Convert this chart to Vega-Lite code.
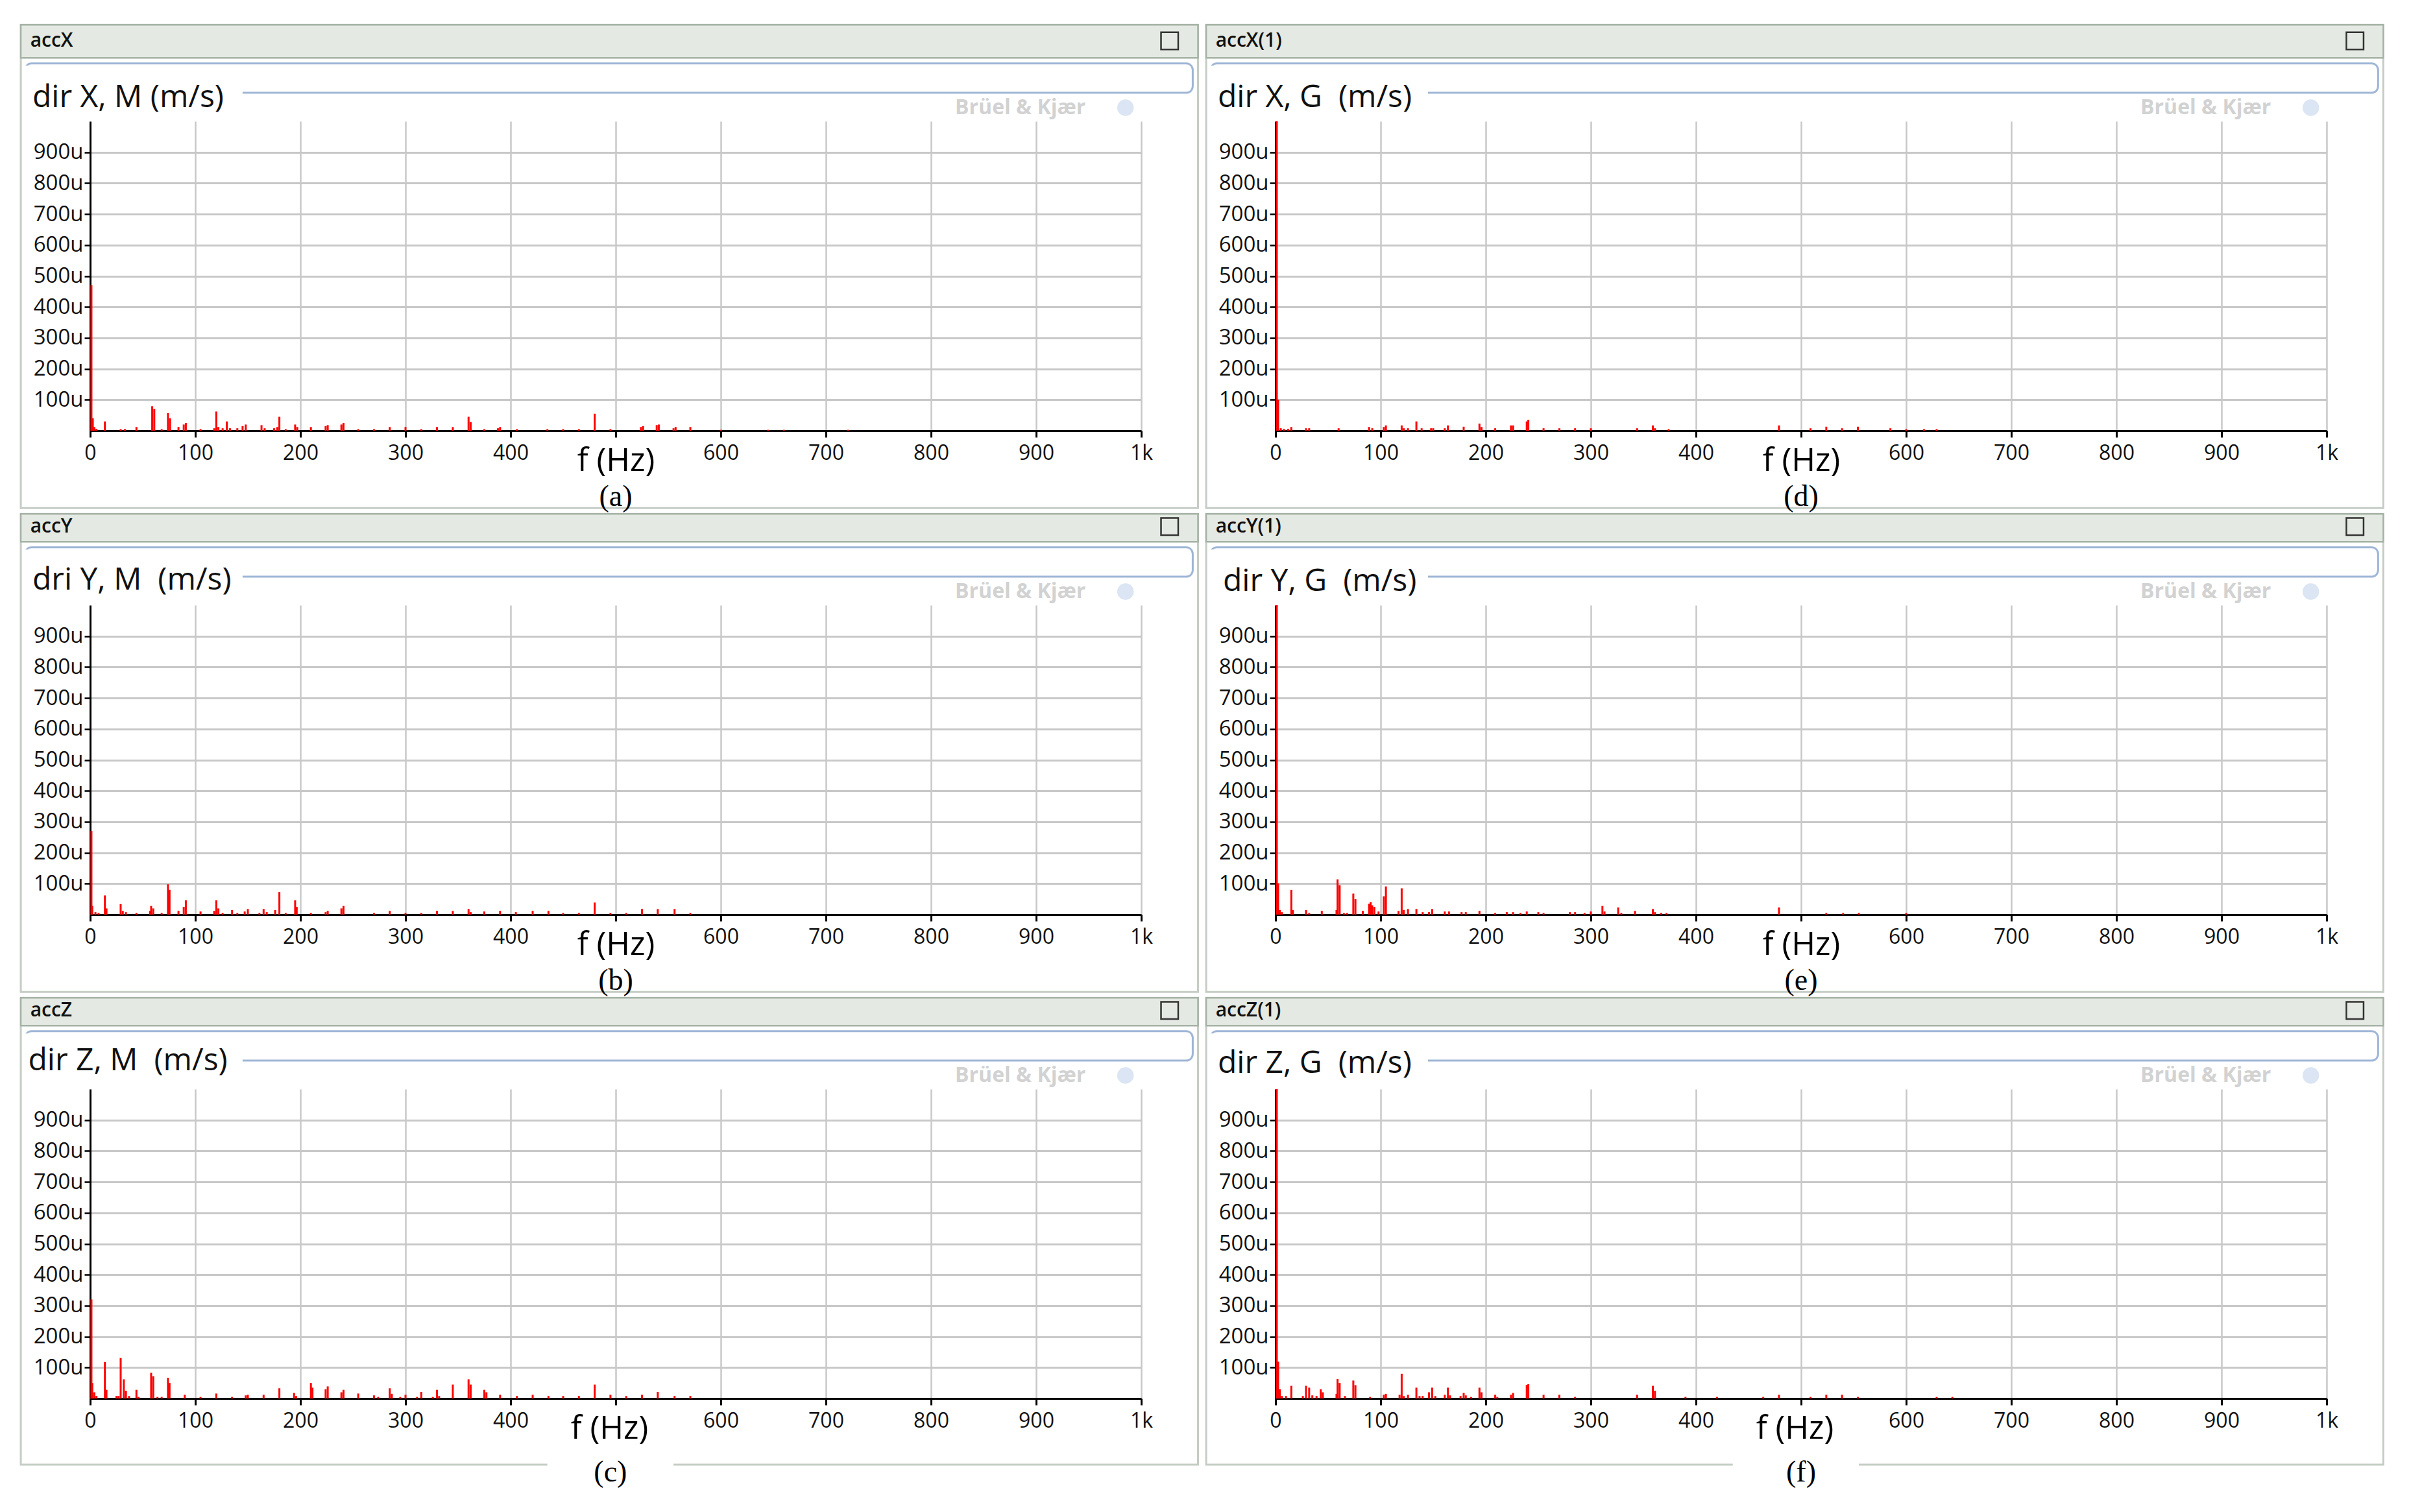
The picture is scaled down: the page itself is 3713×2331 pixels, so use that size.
{
  "$schema": "https://vega.github.io/schema/vega-lite/v6.json",
  "background": "white",
  "padding": {"left": 30, "top": 36, "right": 20, "bottom": 20},
  "config": {"view": {"stroke": null}, "font": "Open Sans"},
  "data": {"values": [
    {"p":"a","h":"accX","t":"dir X, M (m/s)","c":"(a)"},
    {"p":"b","h":"accY","t":"dri Y, M \u00a0(m/s)","c":"(b)"},
    {"p":"c","h":"accZ","t":"dir Z, M \u00a0(m/s)","c":"(c)"},
    {"p":"d","h":"accX(1)","t":"dir X, G \u00a0(m/s)","c":"(d)"},
    {"p":"e","h":"accY(1)","t":"dir Y, G \u00a0(m/s)","c":"(e)"},
    {"p":"f","h":"accZ(1)","t":"dir Z, G \u00a0(m/s)","c":"(f)"},

    {"p":"a","f":1.2,"a":470},{"p":"a","f":2.5,"a":40},{"p":"a","f":4,"a":12},{"p":"a","f":6,"a":6},{"p":"a","f":14,"a":30},{"p":"a","f":29,"a":5},{"p":"a","f":33,"a":5},{"p":"a","f":44,"a":12},{"p":"a","f":59,"a":79},{"p":"a","f":61,"a":70},{"p":"a","f":68,"a":5},{"p":"a","f":74,"a":57},{"p":"a","f":76,"a":40},{"p":"a","f":84,"a":12},{"p":"a","f":89,"a":20},{"p":"a","f":91,"a":25},{"p":"a","f":105,"a":5},{"p":"a","f":118,"a":8},{"p":"a","f":120,"a":62},{"p":"a","f":122,"a":12},{"p":"a","f":126,"a":8},{"p":"a","f":130,"a":30},{"p":"a","f":133,"a":8},{"p":"a","f":140,"a":8},{"p":"a","f":145,"a":15},{"p":"a","f":148,"a":20},{"p":"a","f":163,"a":18},{"p":"a","f":166,"a":8},{"p":"a","f":175,"a":8},{"p":"a","f":178,"a":12},{"p":"a","f":180,"a":45},{"p":"a","f":186,"a":5},{"p":"a","f":195,"a":20},{"p":"a","f":197,"a":12},{"p":"a","f":210,"a":12},{"p":"a","f":224,"a":15},{"p":"a","f":226,"a":18},{"p":"a","f":239,"a":20},{"p":"a","f":241,"a":25},{"p":"a","f":255,"a":5},{"p":"a","f":270,"a":5},{"p":"a","f":285,"a":12},{"p":"a","f":300,"a":12},{"p":"a","f":315,"a":5},{"p":"a","f":330,"a":12},{"p":"a","f":345,"a":12},{"p":"a","f":360,"a":45},{"p":"a","f":362,"a":28},{"p":"a","f":375,"a":5},{"p":"a","f":388,"a":8},{"p":"a","f":390,"a":12},{"p":"a","f":406,"a":5},{"p":"a","f":435,"a":5},{"p":"a","f":450,"a":5},{"p":"a","f":465,"a":5},{"p":"a","f":480,"a":55},{"p":"a","f":495,"a":5},{"p":"a","f":524,"a":12},{"p":"a","f":526,"a":15},{"p":"a","f":539,"a":18},{"p":"a","f":541,"a":20},{"p":"a","f":555,"a":8},{"p":"a","f":557,"a":12},{"p":"a","f":571,"a":12},{"p":"a","f":600,"a":3},{"p":"a","f":645,"a":3},{"p":"a","f":660,"a":3},{"p":"a","f":721,"a":3},

    {"p":"b","f":1.2,"a":270},{"p":"b","f":2,"a":28},{"p":"b","f":5,"a":8},{"p":"b","f":8,"a":5},{"p":"b","f":14,"a":62},{"p":"b","f":15.5,"a":20},{"p":"b","f":29,"a":34},{"p":"b","f":31,"a":12},{"p":"b","f":34,"a":8},{"p":"b","f":44,"a":5},{"p":"b","f":57,"a":12},{"p":"b","f":58,"a":28},{"p":"b","f":60,"a":20},{"p":"b","f":68,"a":5},{"p":"b","f":74,"a":98},{"p":"b","f":75.5,"a":80},{"p":"b","f":84,"a":12},{"p":"b","f":89,"a":25},{"p":"b","f":91,"a":46},{"p":"b","f":105,"a":10},{"p":"b","f":118,"a":12},{"p":"b","f":120,"a":46},{"p":"b","f":122,"a":20},{"p":"b","f":126,"a":5},{"p":"b","f":135,"a":15},{"p":"b","f":140,"a":5},{"p":"b","f":147,"a":10},{"p":"b","f":150,"a":18},{"p":"b","f":161,"a":5},{"p":"b","f":165,"a":18},{"p":"b","f":168,"a":8},{"p":"b","f":176,"a":15},{"p":"b","f":180,"a":73},{"p":"b","f":186,"a":5},{"p":"b","f":195,"a":46},{"p":"b","f":196.5,"a":25},{"p":"b","f":210,"a":5},{"p":"b","f":224,"a":8},{"p":"b","f":226,"a":12},{"p":"b","f":239,"a":20},{"p":"b","f":241,"a":28},{"p":"b","f":270,"a":5},{"p":"b","f":285,"a":12},{"p":"b","f":300,"a":5},{"p":"b","f":315,"a":5},{"p":"b","f":330,"a":12},{"p":"b","f":345,"a":12},{"p":"b","f":360,"a":18},{"p":"b","f":362,"a":8},{"p":"b","f":375,"a":10},{"p":"b","f":390,"a":12},{"p":"b","f":405,"a":8},{"p":"b","f":421,"a":12},{"p":"b","f":436,"a":12},{"p":"b","f":450,"a":5},{"p":"b","f":465,"a":5},{"p":"b","f":480,"a":39},{"p":"b","f":495,"a":5},{"p":"b","f":510,"a":5},{"p":"b","f":525,"a":18},{"p":"b","f":540,"a":18},{"p":"b","f":556,"a":18},{"p":"b","f":571,"a":5},

    {"p":"c","f":1.2,"a":320},{"p":"c","f":2,"a":50},{"p":"c","f":4,"a":20},{"p":"c","f":6,"a":8},{"p":"c","f":14,"a":118},{"p":"c","f":15.5,"a":28},{"p":"c","f":25,"a":8},{"p":"c","f":27,"a":8},{"p":"c","f":29,"a":131},{"p":"c","f":32,"a":62},{"p":"c","f":34,"a":25},{"p":"c","f":37,"a":8},{"p":"c","f":44,"a":28},{"p":"c","f":46,"a":5},{"p":"c","f":58,"a":83},{"p":"c","f":60,"a":72},{"p":"c","f":64,"a":5},{"p":"c","f":68,"a":5},{"p":"c","f":74,"a":67},{"p":"c","f":75.5,"a":50},{"p":"c","f":90,"a":12},{"p":"c","f":105,"a":5},{"p":"c","f":120,"a":16},{"p":"c","f":135,"a":5},{"p":"c","f":148,"a":10},{"p":"c","f":150,"a":12},{"p":"c","f":165,"a":12},{"p":"c","f":180,"a":33},{"p":"c","f":194,"a":18},{"p":"c","f":196,"a":8},{"p":"c","f":210,"a":50},{"p":"c","f":211.5,"a":35},{"p":"c","f":224,"a":30},{"p":"c","f":226,"a":39},{"p":"c","f":239,"a":20},{"p":"c","f":241,"a":28},{"p":"c","f":255,"a":16},{"p":"c","f":270,"a":10},{"p":"c","f":274,"a":5},{"p":"c","f":285,"a":33},{"p":"c","f":287,"a":15},{"p":"c","f":295,"a":5},{"p":"c","f":300,"a":12},{"p":"c","f":311,"a":5},{"p":"c","f":315,"a":21},{"p":"c","f":326,"a":5},{"p":"c","f":330,"a":28},{"p":"c","f":332,"a":8},{"p":"c","f":345,"a":45},{"p":"c","f":360,"a":62},{"p":"c","f":362,"a":45},{"p":"c","f":375,"a":28},{"p":"c","f":377,"a":20},{"p":"c","f":390,"a":12},{"p":"c","f":406,"a":8},{"p":"c","f":421,"a":12},{"p":"c","f":436,"a":8},{"p":"c","f":450,"a":8},{"p":"c","f":465,"a":8},{"p":"c","f":480,"a":45},{"p":"c","f":495,"a":12},{"p":"c","f":510,"a":8},{"p":"c","f":525,"a":12},{"p":"c","f":540,"a":21},{"p":"c","f":556,"a":8},{"p":"c","f":571,"a":8},

    {"p":"d","f":1.2,"a":1000},{"p":"d","f":2.5,"a":100},{"p":"d","f":5,"a":8},{"p":"d","f":8,"a":6},{"p":"d","f":12,"a":6},{"p":"d","f":15,"a":12},{"p":"d","f":29,"a":8},{"p":"d","f":32,"a":8},{"p":"d","f":60,"a":8},{"p":"d","f":89,"a":12},{"p":"d","f":92,"a":8},{"p":"d","f":103,"a":12},{"p":"d","f":105,"a":17},{"p":"d","f":120,"a":17},{"p":"d","f":122,"a":8},{"p":"d","f":126,"a":8},{"p":"d","f":134,"a":30},{"p":"d","f":139,"a":8},{"p":"d","f":148,"a":8},{"p":"d","f":150,"a":8},{"p":"d","f":161,"a":8},{"p":"d","f":164,"a":17},{"p":"d","f":179,"a":13},{"p":"d","f":194,"a":23},{"p":"d","f":196,"a":12},{"p":"d","f":209,"a":8},{"p":"d","f":224,"a":17},{"p":"d","f":226,"a":17},{"p":"d","f":239,"a":30},{"p":"d","f":240.5,"a":35},{"p":"d","f":255,"a":8},{"p":"d","f":270,"a":8},{"p":"d","f":285,"a":8},{"p":"d","f":300,"a":8},{"p":"d","f":344,"a":8},{"p":"d","f":359,"a":17},{"p":"d","f":361,"a":8},{"p":"d","f":374,"a":5},{"p":"d","f":479,"a":17},{"p":"d","f":509,"a":8},{"p":"d","f":524,"a":13},{"p":"d","f":539,"a":8},{"p":"d","f":554,"a":13},{"p":"d","f":585,"a":8},{"p":"d","f":600,"a":5},{"p":"d","f":617,"a":5},{"p":"d","f":629,"a":5},

    {"p":"e","f":1.2,"a":1000},{"p":"e","f":2.5,"a":101},{"p":"e","f":4,"a":15},{"p":"e","f":6,"a":8},{"p":"e","f":15,"a":80},{"p":"e","f":16.5,"a":15},{"p":"e","f":29,"a":15},{"p":"e","f":32,"a":5},{"p":"e","f":44,"a":12},{"p":"e","f":58,"a":15},{"p":"e","f":59,"a":114},{"p":"e","f":61,"a":95},{"p":"e","f":65,"a":5},{"p":"e","f":68,"a":5},{"p":"e","f":74,"a":68},{"p":"e","f":76,"a":50},{"p":"e","f":83,"a":12},{"p":"e","f":89,"a":35},{"p":"e","f":90.5,"a":40},{"p":"e","f":92,"a":30},{"p":"e","f":94,"a":25},{"p":"e","f":98,"a":10},{"p":"e","f":103,"a":59},{"p":"e","f":105,"a":91},{"p":"e","f":117,"a":12},{"p":"e","f":120,"a":85},{"p":"e","f":122,"a":15},{"p":"e","f":126,"a":18},{"p":"e","f":134,"a":18},{"p":"e","f":140,"a":8},{"p":"e","f":146,"a":8},{"p":"e","f":149,"a":18},{"p":"e","f":161,"a":10},{"p":"e","f":165,"a":10},{"p":"e","f":177,"a":8},{"p":"e","f":181,"a":8},{"p":"e","f":194,"a":12},{"p":"e","f":209,"a":5},{"p":"e","f":220,"a":8},{"p":"e","f":226,"a":8},{"p":"e","f":233,"a":5},{"p":"e","f":239,"a":10},{"p":"e","f":250,"a":8},{"p":"e","f":255,"a":5},{"p":"e","f":280,"a":8},{"p":"e","f":285,"a":8},{"p":"e","f":294,"a":5},{"p":"e","f":300,"a":10},{"p":"e","f":311,"a":28},{"p":"e","f":313,"a":10},{"p":"e","f":326,"a":23},{"p":"e","f":329,"a":5},{"p":"e","f":342,"a":12},{"p":"e","f":359,"a":18},{"p":"e","f":361,"a":8},{"p":"e","f":367,"a":5},{"p":"e","f":372,"a":5},{"p":"e","f":479,"a":23},{"p":"e","f":524,"a":5},{"p":"e","f":540,"a":5},{"p":"e","f":555,"a":5},{"p":"e","f":600,"a":5},

    {"p":"f","f":1.2,"a":1000},{"p":"f","f":2.5,"a":119},{"p":"f","f":4,"a":30},{"p":"f","f":6,"a":8},{"p":"f","f":10,"a":8},{"p":"f","f":15,"a":41},{"p":"f","f":26,"a":8},{"p":"f","f":29,"a":41},{"p":"f","f":32,"a":35},{"p":"f","f":35,"a":10},{"p":"f","f":39,"a":8},{"p":"f","f":43,"a":30},{"p":"f","f":45,"a":20},{"p":"f","f":58,"a":15},{"p":"f","f":59,"a":63},{"p":"f","f":61,"a":50},{"p":"f","f":66,"a":8},{"p":"f","f":74,"a":58},{"p":"f","f":76,"a":43},{"p":"f","f":90,"a":5},{"p":"f","f":103,"a":12},{"p":"f","f":105,"a":15},{"p":"f","f":118,"a":12},{"p":"f","f":120,"a":80},{"p":"f","f":122,"a":8},{"p":"f","f":126,"a":12},{"p":"f","f":134,"a":35},{"p":"f","f":137,"a":8},{"p":"f","f":140,"a":8},{"p":"f","f":146,"a":20},{"p":"f","f":149,"a":35},{"p":"f","f":152,"a":8},{"p":"f","f":161,"a":12},{"p":"f","f":164,"a":35},{"p":"f","f":166,"a":10},{"p":"f","f":176,"a":8},{"p":"f","f":179,"a":18},{"p":"f","f":181,"a":10},{"p":"f","f":186,"a":5},{"p":"f","f":194,"a":35},{"p":"f","f":196,"a":20},{"p":"f","f":209,"a":12},{"p":"f","f":211,"a":5},{"p":"f","f":224,"a":12},{"p":"f","f":226,"a":18},{"p":"f","f":239,"a":44},{"p":"f","f":240.5,"a":46},{"p":"f","f":255,"a":12},{"p":"f","f":270,"a":12},{"p":"f","f":285,"a":5},{"p":"f","f":344,"a":12},{"p":"f","f":359,"a":41},{"p":"f","f":361,"a":25},{"p":"f","f":390,"a":5},{"p":"f","f":420,"a":5},{"p":"f","f":464,"a":5},{"p":"f","f":479,"a":12},{"p":"f","f":509,"a":5},{"p":"f","f":524,"a":12},{"p":"f","f":539,"a":12},{"p":"f","f":554,"a":5},{"p":"f","f":629,"a":5},{"p":"f","f":644,"a":5}
  ]},
  "columns": 2,
  "spacing": {"row": 269, "column": 207},
  "bounds": "flush",
  "concat": [
    {"transform": [{"filter": "datum.p == 'a'"}], "width": 1620, "height": 477, "layer": [
      {"transform": [{"filter": "isValid(datum.f)"}], "mark": {"type": "rule", "color": "#ff0000", "strokeWidth": 3, "clip": true}, "encoding": {
        "x": {"field": "f", "type": "quantitative", "scale": {"domain": [0, 1000], "nice": false, "zero": false}, "axis": {"values": [0,100,200,300,400,500,600,700,800,900,1000], "labelExpr": "datum.value == 1000 ? '1k' : (datum.value == 500 ? '' : '' + datum.value)", "title": "f (Hz)", "titleFont": "Open Sans", "titleFontSize": 50, "titleFontWeight": "normal", "titleColor": "#000000", "titleX": 810, "titleY": 46, "titleAlign": "center", "titleBaseline": "middle", "grid": true, "gridColor": "#c8c8c8", "gridWidth": 2.5, "domainColor": "#000000", "domainWidth": 3, "tickColor": "#000000", "tickWidth": 3, "tickSize": 10, "labelFont": "Open Sans", "labelFontSize": 32, "labelColor": "#111111", "labelPadding": 9, "labelFlush": false, "labelOverlap": false}},
        "y": {"field": "a", "type": "quantitative", "scale": {"domain": [0, 1000], "nice": false}, "axis": {"values": [100,200,300,400,500,600,700,800,900], "labelExpr": "datum.value + 'u'", "title": null, "grid": true, "gridColor": "#c8c8c8", "gridWidth": 3, "domainColor": "#000000", "domainWidth": 3, "tickColor": "#000000", "tickWidth": 2.5, "tickSize": 9, "labelFont": "Open Sans", "labelFontSize": 33, "labelColor": "#111111", "labelPadding": 2}},
        "y2": {"datum": 0}}},
      {"transform": [{"filter": "isValid(datum.h)"}], "mark": {"type": "rect", "fillOpacity": 0, "stroke": "#c5cdc5", "strokeWidth": 3}, "encoding": {"x": {"datum": -66, "type": "quantitative"}, "x2": {"datum": 1054}, "y": {"datum": 1312, "type": "quantitative"}, "y2": {"datum": -250}}},
      {"transform": [{"filter": "isValid(datum.h)"}], "mark": {"type": "rect", "fill": "#e4e9e3", "stroke": "#a6b3a6", "strokeWidth": 2.5}, "encoding": {"x": {"datum": -66, "type": "quantitative"}, "x2": {"datum": 1054}, "y": {"datum": 1312, "type": "quantitative"}, "y2": {"datum": 1205}}},
      {"transform": [{"filter": "isValid(datum.h)"}], "mark": {"type": "text", "align": "left", "baseline": "middle", "fontSize": 30, "fontWeight": 600, "color": "#111111"}, "encoding": {"x": {"datum": -57, "type": "quantitative"}, "y": {"datum": 1260, "type": "quantitative"}, "text": {"field": "h"}}},
      {"transform": [{"filter": "isValid(datum.h)"}], "mark": {"type": "point", "shape": "square", "filled": false, "color": "#333333", "strokeWidth": 2.5, "size": 700, "opacity": 1}, "encoding": {"x": {"datum": 1027, "type": "quantitative"}, "y": {"datum": 1260, "type": "quantitative"}}},
      {"transform": [{"filter": "isValid(datum.h)"}], "mark": {"type": "rect", "fillOpacity": 0, "stroke": "#9fb6d6", "strokeWidth": 3, "cornerRadius": 10}, "encoding": {"x": {"datum": -62, "type": "quantitative"}, "x2": {"datum": 1049}, "y": {"datum": 1092, "type": "quantitative"}, "y2": {"datum": 1187}}},
      {"transform": [{"filter": "isValid(datum.h)"}], "mark": {"type": "rect", "fill": "white", "strokeWidth": 0}, "encoding": {"x": {"datum": -64, "type": "quantitative"}, "x2": {"datum": 145}, "y": {"datum": 1040, "type": "quantitative"}, "y2": {"datum": 1180}}},
      {"transform": [{"filter": "isValid(datum.h)"}], "mark": {"type": "text", "align": "left", "baseline": "middle", "fontSize": 48, "color": "#111111"}, "encoding": {"x": {"datum": -55, "type": "quantitative"}, "y": {"datum": 1075, "type": "quantitative"}, "text": {"field": "t"}}},
      {"transform": [{"filter": "isValid(datum.h)"}], "mark": {"type": "text", "align": "center", "baseline": "middle", "fontSize": 32, "fontWeight": "bold", "color": "#d2d2d2", "text": "Brüel & Kjær"}, "encoding": {"x": {"datum": 885, "type": "quantitative"}, "y": {"datum": 1044, "type": "quantitative"}}},
      {"transform": [{"filter": "isValid(datum.h)"}], "mark": {"type": "point", "shape": "circle", "filled": true, "color": "#dbe5f4", "size": 650, "opacity": 1}, "encoding": {"x": {"datum": 985, "type": "quantitative"}, "y": {"datum": 1044, "type": "quantitative"}}},
      {"transform": [{"filter": "isValid(datum.h)"}], "mark": {"type": "text", "align": "center", "baseline": "middle", "font": "Liberation Serif", "fontSize": 46, "color": "#000000"}, "encoding": {"x": {"datum": 500, "type": "quantitative"}, "y": {"datum": -213, "type": "quantitative"}, "text": {"field": "c"}}}
    ]},
    {"transform": [{"filter": "datum.p == 'd'"}], "width": 1620, "height": 477, "layer": [
      {"transform": [{"filter": "isValid(datum.f)"}], "mark": {"type": "rule", "color": "#ff0000", "strokeWidth": 3, "clip": true}, "encoding": {
        "x": {"field": "f", "type": "quantitative", "scale": {"domain": [0, 1000], "nice": false, "zero": false}, "axis": {"values": [0,100,200,300,400,500,600,700,800,900,1000], "labelExpr": "datum.value == 1000 ? '1k' : (datum.value == 500 ? '' : '' + datum.value)", "title": "f (Hz)", "titleFont": "Open Sans", "titleFontSize": 50, "titleFontWeight": "normal", "titleColor": "#000000", "titleX": 810, "titleY": 46, "titleAlign": "center", "titleBaseline": "middle", "grid": true, "gridColor": "#c8c8c8", "gridWidth": 2.5, "domainColor": "#000000", "domainWidth": 3, "tickColor": "#000000", "tickWidth": 3, "tickSize": 10, "labelFont": "Open Sans", "labelFontSize": 32, "labelColor": "#111111", "labelPadding": 9, "labelFlush": false, "labelOverlap": false}},
        "y": {"field": "a", "type": "quantitative", "scale": {"domain": [0, 1000], "nice": false}, "axis": {"values": [100,200,300,400,500,600,700,800,900], "labelExpr": "datum.value + 'u'", "title": null, "grid": true, "gridColor": "#c8c8c8", "gridWidth": 3, "domainColor": "#000000", "domainWidth": 3, "tickColor": "#000000", "tickWidth": 2.5, "tickSize": 9, "labelFont": "Open Sans", "labelFontSize": 33, "labelColor": "#111111", "labelPadding": 2}},
        "y2": {"datum": 0}}},
      {"transform": [{"filter": "isValid(datum.h)"}], "mark": {"type": "rect", "fillOpacity": 0, "stroke": "#c5cdc5", "strokeWidth": 3}, "encoding": {"x": {"datum": -66, "type": "quantitative"}, "x2": {"datum": 1054}, "y": {"datum": 1312, "type": "quantitative"}, "y2": {"datum": -250}}},
      {"transform": [{"filter": "isValid(datum.h)"}], "mark": {"type": "rect", "fill": "#e4e9e3", "stroke": "#a6b3a6", "strokeWidth": 2.5}, "encoding": {"x": {"datum": -66, "type": "quantitative"}, "x2": {"datum": 1054}, "y": {"datum": 1312, "type": "quantitative"}, "y2": {"datum": 1205}}},
      {"transform": [{"filter": "isValid(datum.h)"}], "mark": {"type": "text", "align": "left", "baseline": "middle", "fontSize": 30, "fontWeight": 600, "color": "#111111"}, "encoding": {"x": {"datum": -57, "type": "quantitative"}, "y": {"datum": 1260, "type": "quantitative"}, "text": {"field": "h"}}},
      {"transform": [{"filter": "isValid(datum.h)"}], "mark": {"type": "point", "shape": "square", "filled": false, "color": "#333333", "strokeWidth": 2.5, "size": 700, "opacity": 1}, "encoding": {"x": {"datum": 1027, "type": "quantitative"}, "y": {"datum": 1260, "type": "quantitative"}}},
      {"transform": [{"filter": "isValid(datum.h)"}], "mark": {"type": "rect", "fillOpacity": 0, "stroke": "#9fb6d6", "strokeWidth": 3, "cornerRadius": 10}, "encoding": {"x": {"datum": -62, "type": "quantitative"}, "x2": {"datum": 1049}, "y": {"datum": 1092, "type": "quantitative"}, "y2": {"datum": 1187}}},
      {"transform": [{"filter": "isValid(datum.h)"}], "mark": {"type": "rect", "fill": "white", "strokeWidth": 0}, "encoding": {"x": {"datum": -64, "type": "quantitative"}, "x2": {"datum": 145}, "y": {"datum": 1040, "type": "quantitative"}, "y2": {"datum": 1180}}},
      {"transform": [{"filter": "isValid(datum.h)"}], "mark": {"type": "text", "align": "left", "baseline": "middle", "fontSize": 48, "color": "#111111"}, "encoding": {"x": {"datum": -55, "type": "quantitative"}, "y": {"datum": 1075, "type": "quantitative"}, "text": {"field": "t"}}},
      {"transform": [{"filter": "isValid(datum.h)"}], "mark": {"type": "text", "align": "center", "baseline": "middle", "fontSize": 32, "fontWeight": "bold", "color": "#d2d2d2", "text": "Brüel & Kjær"}, "encoding": {"x": {"datum": 885, "type": "quantitative"}, "y": {"datum": 1044, "type": "quantitative"}}},
      {"transform": [{"filter": "isValid(datum.h)"}], "mark": {"type": "point", "shape": "circle", "filled": true, "color": "#dbe5f4", "size": 650, "opacity": 1}, "encoding": {"x": {"datum": 985, "type": "quantitative"}, "y": {"datum": 1044, "type": "quantitative"}}},
      {"transform": [{"filter": "isValid(datum.h)"}], "mark": {"type": "text", "align": "center", "baseline": "middle", "font": "Liberation Serif", "fontSize": 46, "color": "#000000"}, "encoding": {"x": {"datum": 500, "type": "quantitative"}, "y": {"datum": -213, "type": "quantitative"}, "text": {"field": "c"}}}
    ]},
    {"transform": [{"filter": "datum.p == 'b'"}], "width": 1620, "height": 477, "layer": [
      {"transform": [{"filter": "isValid(datum.f)"}], "mark": {"type": "rule", "color": "#ff0000", "strokeWidth": 3, "clip": true}, "encoding": {
        "x": {"field": "f", "type": "quantitative", "scale": {"domain": [0, 1000], "nice": false, "zero": false}, "axis": {"values": [0,100,200,300,400,500,600,700,800,900,1000], "labelExpr": "datum.value == 1000 ? '1k' : (datum.value == 500 ? '' : '' + datum.value)", "title": "f (Hz)", "titleFont": "Open Sans", "titleFontSize": 50, "titleFontWeight": "normal", "titleColor": "#000000", "titleX": 810, "titleY": 46, "titleAlign": "center", "titleBaseline": "middle", "grid": true, "gridColor": "#c8c8c8", "gridWidth": 2.5, "domainColor": "#000000", "domainWidth": 3, "tickColor": "#000000", "tickWidth": 3, "tickSize": 10, "labelFont": "Open Sans", "labelFontSize": 32, "labelColor": "#111111", "labelPadding": 9, "labelFlush": false, "labelOverlap": false}},
        "y": {"field": "a", "type": "quantitative", "scale": {"domain": [0, 1000], "nice": false}, "axis": {"values": [100,200,300,400,500,600,700,800,900], "labelExpr": "datum.value + 'u'", "title": null, "grid": true, "gridColor": "#c8c8c8", "gridWidth": 3, "domainColor": "#000000", "domainWidth": 3, "tickColor": "#000000", "tickWidth": 2.5, "tickSize": 9, "labelFont": "Open Sans", "labelFontSize": 33, "labelColor": "#111111", "labelPadding": 2}},
        "y2": {"datum": 0}}},
      {"transform": [{"filter": "isValid(datum.h)"}], "mark": {"type": "rect", "fillOpacity": 0, "stroke": "#c5cdc5", "strokeWidth": 3}, "encoding": {"x": {"datum": -66, "type": "quantitative"}, "x2": {"datum": 1054}, "y": {"datum": 1295, "type": "quantitative"}, "y2": {"datum": -250}}},
      {"transform": [{"filter": "isValid(datum.h)"}], "mark": {"type": "rect", "fill": "#e4e9e3", "stroke": "#a6b3a6", "strokeWidth": 2.5}, "encoding": {"x": {"datum": -66, "type": "quantitative"}, "x2": {"datum": 1054}, "y": {"datum": 1295, "type": "quantitative"}, "y2": {"datum": 1205}}},
      {"transform": [{"filter": "isValid(datum.h)"}], "mark": {"type": "text", "align": "left", "baseline": "middle", "fontSize": 30, "fontWeight": 600, "color": "#111111"}, "encoding": {"x": {"datum": -57, "type": "quantitative"}, "y": {"datum": 1254, "type": "quantitative"}, "text": {"field": "h"}}},
      {"transform": [{"filter": "isValid(datum.h)"}], "mark": {"type": "point", "shape": "square", "filled": false, "color": "#333333", "strokeWidth": 2.5, "size": 700, "opacity": 1}, "encoding": {"x": {"datum": 1027, "type": "quantitative"}, "y": {"datum": 1254, "type": "quantitative"}}},
      {"transform": [{"filter": "isValid(datum.h)"}], "mark": {"type": "rect", "fillOpacity": 0, "stroke": "#9fb6d6", "strokeWidth": 3, "cornerRadius": 10}, "encoding": {"x": {"datum": -62, "type": "quantitative"}, "x2": {"datum": 1049}, "y": {"datum": 1092, "type": "quantitative"}, "y2": {"datum": 1187}}},
      {"transform": [{"filter": "isValid(datum.h)"}], "mark": {"type": "rect", "fill": "white", "strokeWidth": 0}, "encoding": {"x": {"datum": -64, "type": "quantitative"}, "x2": {"datum": 145}, "y": {"datum": 1040, "type": "quantitative"}, "y2": {"datum": 1180}}},
      {"transform": [{"filter": "isValid(datum.h)"}], "mark": {"type": "text", "align": "left", "baseline": "middle", "fontSize": 48, "color": "#111111"}, "encoding": {"x": {"datum": -55, "type": "quantitative"}, "y": {"datum": 1080, "type": "quantitative"}, "text": {"field": "t"}}},
      {"transform": [{"filter": "isValid(datum.h)"}], "mark": {"type": "text", "align": "center", "baseline": "middle", "fontSize": 32, "fontWeight": "bold", "color": "#d2d2d2", "text": "Brüel & Kjær"}, "encoding": {"x": {"datum": 885, "type": "quantitative"}, "y": {"datum": 1044, "type": "quantitative"}}},
      {"transform": [{"filter": "isValid(datum.h)"}], "mark": {"type": "point", "shape": "circle", "filled": true, "color": "#dbe5f4", "size": 650, "opacity": 1}, "encoding": {"x": {"datum": 985, "type": "quantitative"}, "y": {"datum": 1044, "type": "quantitative"}}},
      {"transform": [{"filter": "isValid(datum.h)"}], "mark": {"type": "text", "align": "center", "baseline": "middle", "font": "Liberation Serif", "fontSize": 46, "color": "#000000"}, "encoding": {"x": {"datum": 500, "type": "quantitative"}, "y": {"datum": -213, "type": "quantitative"}, "text": {"field": "c"}}}
    ]},
    {"transform": [{"filter": "datum.p == 'e'"}], "width": 1620, "height": 477, "layer": [
      {"transform": [{"filter": "isValid(datum.f)"}], "mark": {"type": "rule", "color": "#ff0000", "strokeWidth": 3, "clip": true}, "encoding": {
        "x": {"field": "f", "type": "quantitative", "scale": {"domain": [0, 1000], "nice": false, "zero": false}, "axis": {"values": [0,100,200,300,400,500,600,700,800,900,1000], "labelExpr": "datum.value == 1000 ? '1k' : (datum.value == 500 ? '' : '' + datum.value)", "title": "f (Hz)", "titleFont": "Open Sans", "titleFontSize": 50, "titleFontWeight": "normal", "titleColor": "#000000", "titleX": 810, "titleY": 46, "titleAlign": "center", "titleBaseline": "middle", "grid": true, "gridColor": "#c8c8c8", "gridWidth": 2.5, "domainColor": "#000000", "domainWidth": 3, "tickColor": "#000000", "tickWidth": 3, "tickSize": 10, "labelFont": "Open Sans", "labelFontSize": 32, "labelColor": "#111111", "labelPadding": 9, "labelFlush": false, "labelOverlap": false}},
        "y": {"field": "a", "type": "quantitative", "scale": {"domain": [0, 1000], "nice": false}, "axis": {"values": [100,200,300,400,500,600,700,800,900], "labelExpr": "datum.value + 'u'", "title": null, "grid": true, "gridColor": "#c8c8c8", "gridWidth": 3, "domainColor": "#000000", "domainWidth": 3, "tickColor": "#000000", "tickWidth": 2.5, "tickSize": 9, "labelFont": "Open Sans", "labelFontSize": 33, "labelColor": "#111111", "labelPadding": 2}},
        "y2": {"datum": 0}}},
      {"transform": [{"filter": "isValid(datum.h)"}], "mark": {"type": "rect", "fillOpacity": 0, "stroke": "#c5cdc5", "strokeWidth": 3}, "encoding": {"x": {"datum": -66, "type": "quantitative"}, "x2": {"datum": 1054}, "y": {"datum": 1295, "type": "quantitative"}, "y2": {"datum": -250}}},
      {"transform": [{"filter": "isValid(datum.h)"}], "mark": {"type": "rect", "fill": "#e4e9e3", "stroke": "#a6b3a6", "strokeWidth": 2.5}, "encoding": {"x": {"datum": -66, "type": "quantitative"}, "x2": {"datum": 1054}, "y": {"datum": 1295, "type": "quantitative"}, "y2": {"datum": 1205}}},
      {"transform": [{"filter": "isValid(datum.h)"}], "mark": {"type": "text", "align": "left", "baseline": "middle", "fontSize": 30, "fontWeight": 600, "color": "#111111"}, "encoding": {"x": {"datum": -57, "type": "quantitative"}, "y": {"datum": 1254, "type": "quantitative"}, "text": {"field": "h"}}},
      {"transform": [{"filter": "isValid(datum.h)"}], "mark": {"type": "point", "shape": "square", "filled": false, "color": "#333333", "strokeWidth": 2.5, "size": 700, "opacity": 1}, "encoding": {"x": {"datum": 1027, "type": "quantitative"}, "y": {"datum": 1254, "type": "quantitative"}}},
      {"transform": [{"filter": "isValid(datum.h)"}], "mark": {"type": "rect", "fillOpacity": 0, "stroke": "#9fb6d6", "strokeWidth": 3, "cornerRadius": 10}, "encoding": {"x": {"datum": -62, "type": "quantitative"}, "x2": {"datum": 1049}, "y": {"datum": 1092, "type": "quantitative"}, "y2": {"datum": 1187}}},
      {"transform": [{"filter": "isValid(datum.h)"}], "mark": {"type": "rect", "fill": "white", "strokeWidth": 0}, "encoding": {"x": {"datum": -64, "type": "quantitative"}, "x2": {"datum": 145}, "y": {"datum": 1040, "type": "quantitative"}, "y2": {"datum": 1180}}},
      {"transform": [{"filter": "isValid(datum.h)"}], "mark": {"type": "text", "align": "left", "baseline": "middle", "fontSize": 48, "color": "#111111"}, "encoding": {"x": {"datum": -50, "type": "quantitative"}, "y": {"datum": 1075, "type": "quantitative"}, "text": {"field": "t"}}},
      {"transform": [{"filter": "isValid(datum.h)"}], "mark": {"type": "text", "align": "center", "baseline": "middle", "fontSize": 32, "fontWeight": "bold", "color": "#d2d2d2", "text": "Brüel & Kjær"}, "encoding": {"x": {"datum": 885, "type": "quantitative"}, "y": {"datum": 1044, "type": "quantitative"}}},
      {"transform": [{"filter": "isValid(datum.h)"}], "mark": {"type": "point", "shape": "circle", "filled": true, "color": "#dbe5f4", "size": 650, "opacity": 1}, "encoding": {"x": {"datum": 985, "type": "quantitative"}, "y": {"datum": 1044, "type": "quantitative"}}},
      {"transform": [{"filter": "isValid(datum.h)"}], "mark": {"type": "text", "align": "center", "baseline": "middle", "font": "Liberation Serif", "fontSize": 46, "color": "#000000"}, "encoding": {"x": {"datum": 500, "type": "quantitative"}, "y": {"datum": -213, "type": "quantitative"}, "text": {"field": "c"}}}
    ]},
    {"transform": [{"filter": "datum.p == 'c'"}], "width": 1620, "height": 477, "layer": [
      {"transform": [{"filter": "isValid(datum.f)"}], "mark": {"type": "rule", "color": "#ff0000", "strokeWidth": 3, "clip": true}, "encoding": {
        "x": {"field": "f", "type": "quantitative", "scale": {"domain": [0, 1000], "nice": false, "zero": false}, "axis": {"values": [0,100,200,300,400,500,600,700,800,900,1000], "labelExpr": "datum.value == 1000 ? '1k' : (datum.value == 500 ? '' : '' + datum.value)", "title": "f (Hz)", "titleFont": "Open Sans", "titleFontSize": 50, "titleFontWeight": "normal", "titleColor": "#000000", "titleX": 800, "titleY": 46, "titleAlign": "center", "titleBaseline": "middle", "grid": true, "gridColor": "#c8c8c8", "gridWidth": 2.5, "domainColor": "#000000", "domainWidth": 3, "tickColor": "#000000", "tickWidth": 3, "tickSize": 10, "labelFont": "Open Sans", "labelFontSize": 32, "labelColor": "#111111", "labelPadding": 9, "labelFlush": false, "labelOverlap": false}},
        "y": {"field": "a", "type": "quantitative", "scale": {"domain": [0, 1000], "nice": false}, "axis": {"values": [100,200,300,400,500,600,700,800,900], "labelExpr": "datum.value + 'u'", "title": null, "grid": true, "gridColor": "#c8c8c8", "gridWidth": 3, "domainColor": "#000000", "domainWidth": 3, "tickColor": "#000000", "tickWidth": 2.5, "tickSize": 9, "labelFont": "Open Sans", "labelFontSize": 33, "labelColor": "#111111", "labelPadding": 2}},
        "y2": {"datum": 0}}},
      {"transform": [{"filter": "isValid(datum.h)"}], "mark": {"type": "rect", "fillOpacity": 0, "stroke": "#c5cdc5", "strokeWidth": 3}, "encoding": {"x": {"datum": -66, "type": "quantitative"}, "x2": {"datum": 1054}, "y": {"datum": 1295, "type": "quantitative"}, "y2": {"datum": -214}}},
      {"transform": [{"filter": "isValid(datum.h)"}], "mark": {"type": "rect", "fill": "#e4e9e3", "stroke": "#a6b3a6", "strokeWidth": 2.5}, "encoding": {"x": {"datum": -66, "type": "quantitative"}, "x2": {"datum": 1054}, "y": {"datum": 1295, "type": "quantitative"}, "y2": {"datum": 1205}}},
      {"transform": [{"filter": "isValid(datum.h)"}], "mark": {"type": "text", "align": "left", "baseline": "middle", "fontSize": 30, "fontWeight": 600, "color": "#111111"}, "encoding": {"x": {"datum": -57, "type": "quantitative"}, "y": {"datum": 1254, "type": "quantitative"}, "text": {"field": "h"}}},
      {"transform": [{"filter": "isValid(datum.h)"}], "mark": {"type": "point", "shape": "square", "filled": false, "color": "#333333", "strokeWidth": 2.5, "size": 700, "opacity": 1}, "encoding": {"x": {"datum": 1027, "type": "quantitative"}, "y": {"datum": 1254, "type": "quantitative"}}},
      {"transform": [{"filter": "isValid(datum.h)"}], "mark": {"type": "rect", "fillOpacity": 0, "stroke": "#9fb6d6", "strokeWidth": 3, "cornerRadius": 10}, "encoding": {"x": {"datum": -62, "type": "quantitative"}, "x2": {"datum": 1049}, "y": {"datum": 1092, "type": "quantitative"}, "y2": {"datum": 1187}}},
      {"transform": [{"filter": "isValid(datum.h)"}], "mark": {"type": "rect", "fill": "white", "strokeWidth": 0}, "encoding": {"x": {"datum": -64, "type": "quantitative"}, "x2": {"datum": 145}, "y": {"datum": 1040, "type": "quantitative"}, "y2": {"datum": 1180}}},
      {"transform": [{"filter": "isValid(datum.h)"}], "mark": {"type": "text", "align": "left", "baseline": "middle", "fontSize": 48, "color": "#111111"}, "encoding": {"x": {"datum": -59, "type": "quantitative"}, "y": {"datum": 1090, "type": "quantitative"}, "text": {"field": "t"}}},
      {"transform": [{"filter": "isValid(datum.h)"}], "mark": {"type": "text", "align": "center", "baseline": "middle", "fontSize": 32, "fontWeight": "bold", "color": "#d2d2d2", "text": "Brüel & Kjær"}, "encoding": {"x": {"datum": 885, "type": "quantitative"}, "y": {"datum": 1044, "type": "quantitative"}}},
      {"transform": [{"filter": "isValid(datum.h)"}], "mark": {"type": "point", "shape": "circle", "filled": true, "color": "#dbe5f4", "size": 650, "opacity": 1}, "encoding": {"x": {"datum": 985, "type": "quantitative"}, "y": {"datum": 1044, "type": "quantitative"}}},
      {"transform": [{"filter": "isValid(datum.h)"}], "mark": {"type": "rect", "fill": "white", "strokeWidth": 0}, "encoding": {"x": {"datum": 435, "type": "quantitative"}, "x2": {"datum": 555}, "y": {"datum": -195, "type": "quantitative"}, "y2": {"datum": -235}}},
      {"transform": [{"filter": "isValid(datum.h)"}], "mark": {"type": "text", "align": "center", "baseline": "middle", "font": "Liberation Serif", "fontSize": 46, "color": "#000000"}, "encoding": {"x": {"datum": 495, "type": "quantitative"}, "y": {"datum": -238, "type": "quantitative"}, "text": {"field": "c"}}}
    ]},
    {"transform": [{"filter": "datum.p == 'f'"}], "width": 1620, "height": 477, "layer": [
      {"transform": [{"filter": "isValid(datum.f)"}], "mark": {"type": "rule", "color": "#ff0000", "strokeWidth": 3, "clip": true}, "encoding": {
        "x": {"field": "f", "type": "quantitative", "scale": {"domain": [0, 1000], "nice": false, "zero": false}, "axis": {"values": [0,100,200,300,400,500,600,700,800,900,1000], "labelExpr": "datum.value == 1000 ? '1k' : (datum.value == 500 ? '' : '' + datum.value)", "title": "f (Hz)", "titleFont": "Open Sans", "titleFontSize": 50, "titleFontWeight": "normal", "titleColor": "#000000", "titleX": 800, "titleY": 46, "titleAlign": "center", "titleBaseline": "middle", "grid": true, "gridColor": "#c8c8c8", "gridWidth": 2.5, "domainColor": "#000000", "domainWidth": 3, "tickColor": "#000000", "tickWidth": 3, "tickSize": 10, "labelFont": "Open Sans", "labelFontSize": 32, "labelColor": "#111111", "labelPadding": 9, "labelFlush": false, "labelOverlap": false}},
        "y": {"field": "a", "type": "quantitative", "scale": {"domain": [0, 1000], "nice": false}, "axis": {"values": [100,200,300,400,500,600,700,800,900], "labelExpr": "datum.value + 'u'", "title": null, "grid": true, "gridColor": "#c8c8c8", "gridWidth": 3, "domainColor": "#000000", "domainWidth": 3, "tickColor": "#000000", "tickWidth": 2.5, "tickSize": 9, "labelFont": "Open Sans", "labelFontSize": 33, "labelColor": "#111111", "labelPadding": 2}},
        "y2": {"datum": 0}}},
      {"transform": [{"filter": "isValid(datum.h)"}], "mark": {"type": "rect", "fillOpacity": 0, "stroke": "#c5cdc5", "strokeWidth": 3}, "encoding": {"x": {"datum": -66, "type": "quantitative"}, "x2": {"datum": 1054}, "y": {"datum": 1295, "type": "quantitative"}, "y2": {"datum": -214}}},
      {"transform": [{"filter": "isValid(datum.h)"}], "mark": {"type": "rect", "fill": "#e4e9e3", "stroke": "#a6b3a6", "strokeWidth": 2.5}, "encoding": {"x": {"datum": -66, "type": "quantitative"}, "x2": {"datum": 1054}, "y": {"datum": 1295, "type": "quantitative"}, "y2": {"datum": 1205}}},
      {"transform": [{"filter": "isValid(datum.h)"}], "mark": {"type": "text", "align": "left", "baseline": "middle", "fontSize": 30, "fontWeight": 600, "color": "#111111"}, "encoding": {"x": {"datum": -57, "type": "quantitative"}, "y": {"datum": 1254, "type": "quantitative"}, "text": {"field": "h"}}},
      {"transform": [{"filter": "isValid(datum.h)"}], "mark": {"type": "point", "shape": "square", "filled": false, "color": "#333333", "strokeWidth": 2.5, "size": 700, "opacity": 1}, "encoding": {"x": {"datum": 1027, "type": "quantitative"}, "y": {"datum": 1254, "type": "quantitative"}}},
      {"transform": [{"filter": "isValid(datum.h)"}], "mark": {"type": "rect", "fillOpacity": 0, "stroke": "#9fb6d6", "strokeWidth": 3, "cornerRadius": 10}, "encoding": {"x": {"datum": -62, "type": "quantitative"}, "x2": {"datum": 1049}, "y": {"datum": 1092, "type": "quantitative"}, "y2": {"datum": 1187}}},
      {"transform": [{"filter": "isValid(datum.h)"}], "mark": {"type": "rect", "fill": "white", "strokeWidth": 0}, "encoding": {"x": {"datum": -64, "type": "quantitative"}, "x2": {"datum": 145}, "y": {"datum": 1040, "type": "quantitative"}, "y2": {"datum": 1180}}},
      {"transform": [{"filter": "isValid(datum.h)"}], "mark": {"type": "text", "align": "left", "baseline": "middle", "fontSize": 48, "color": "#111111"}, "encoding": {"x": {"datum": -55, "type": "quantitative"}, "y": {"datum": 1082, "type": "quantitative"}, "text": {"field": "t"}}},
      {"transform": [{"filter": "isValid(datum.h)"}], "mark": {"type": "text", "align": "center", "baseline": "middle", "fontSize": 32, "fontWeight": "bold", "color": "#d2d2d2", "text": "Brüel & Kjær"}, "encoding": {"x": {"datum": 885, "type": "quantitative"}, "y": {"datum": 1044, "type": "quantitative"}}},
      {"transform": [{"filter": "isValid(datum.h)"}], "mark": {"type": "point", "shape": "circle", "filled": true, "color": "#dbe5f4", "size": 650, "opacity": 1}, "encoding": {"x": {"datum": 985, "type": "quantitative"}, "y": {"datum": 1044, "type": "quantitative"}}},
      {"transform": [{"filter": "isValid(datum.h)"}], "mark": {"type": "rect", "fill": "white", "strokeWidth": 0}, "encoding": {"x": {"datum": 435, "type": "quantitative"}, "x2": {"datum": 555}, "y": {"datum": -195, "type": "quantitative"}, "y2": {"datum": -235}}},
      {"transform": [{"filter": "isValid(datum.h)"}], "mark": {"type": "text", "align": "center", "baseline": "middle", "font": "Liberation Serif", "fontSize": 46, "color": "#000000"}, "encoding": {"x": {"datum": 500, "type": "quantitative"}, "y": {"datum": -238, "type": "quantitative"}, "text": {"field": "c"}}}
    ]}
  ]
}
